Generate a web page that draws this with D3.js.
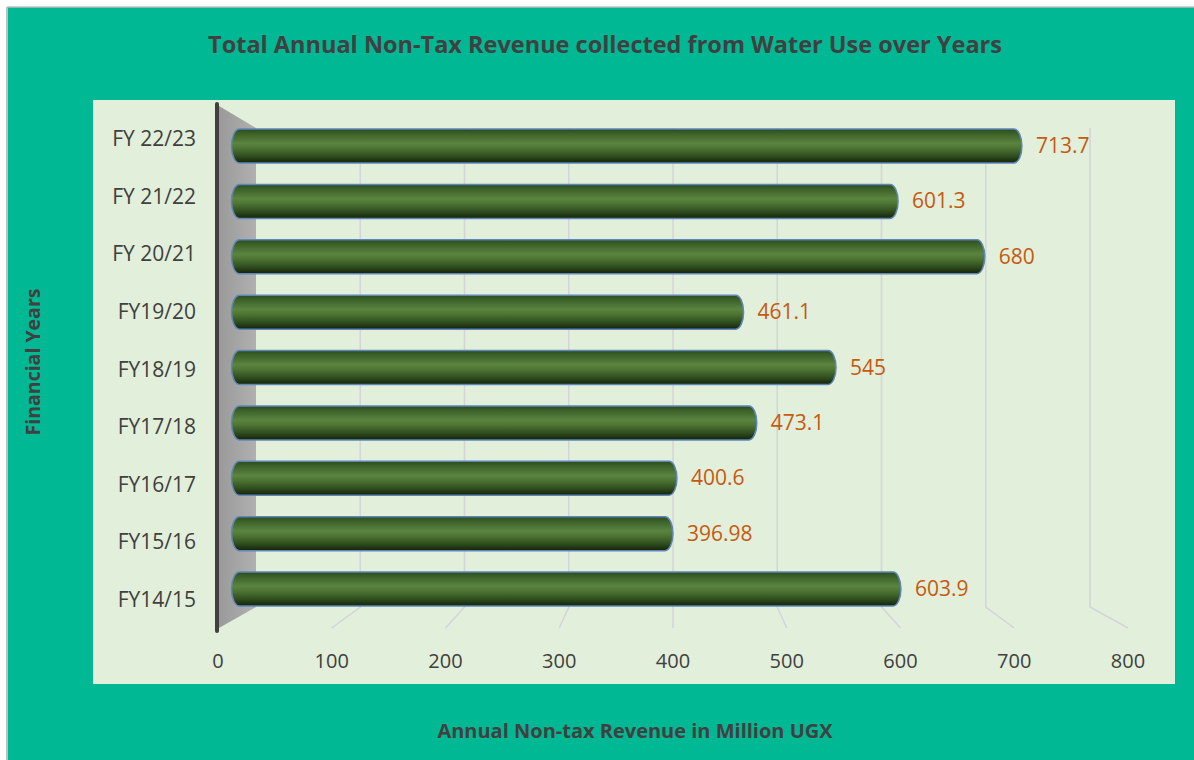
<!DOCTYPE html>
<html>
<head>
<meta charset="utf-8">
<script src="https://cdn.jsdelivr.net/npm/d3@7"></script>
<style>
  body { margin: 0; background: #fff; }
  svg { display: block; }
  text { font-family: 'Open Sans', 'Noto Sans', sans-serif; }
</style>
</head>
<body>
<div id="chart"></div>
<script>
// Data
const categories = ['FY14/15', 'FY15/16', 'FY16/17', 'FY17/18', 'FY18/19', 'FY19/20', 'FY 20/21', 'FY 21/22', 'FY 22/23'];
const values = [603.9, 396.98, 400.6, 473.1, 545, 461.1, 680, 601.3, 713.7];
const tickValues = [0, 100, 200, 300, 400, 500, 600, 700, 800];

const chartTitle = 'Total Annual Non-Tax Revenue collected from Water Use over Years';
const xTitle = 'Annual Non-tax Revenue in Million UGX';
const yTitle = 'Financial Years';

const W = 1194, H = 760;
const rows = categories.map((c, i) => ({ cat: c, val: values[i] }));

const svg = d3.select('#chart').append('svg')
    .attr('width', W)
    .attr('height', H);

// Gradient for the cylinders
const defs = svg.append('defs');
const grad = defs.append('linearGradient')
    .attr('id', 'cyl')
    .attr('x1', 0).attr('y1', 0).attr('x2', 0).attr('y2', 1);
[[0, '#2b4a1e'], [0.12, '#3a5f27'], [0.42, '#5b8440'], [0.55, '#4f7634'], [0.8, '#2f4d1e'], [1, '#14230b']]
    .forEach(s => grad.append('stop').attr('offset', s[0]).attr('stop-color', s[1]));

const wallGrad = defs.append('linearGradient')
    .attr('id', 'wall')
    .attr('x1', 0).attr('y1', 0).attr('x2', 1).attr('y2', 0);
wallGrad.append('stop').attr('offset', 0).attr('stop-color', '#9a9a9a');
wallGrad.append('stop').attr('offset', 1).attr('stop-color', '#b0b0b0');

// Chart area + plot area
svg.append('rect')
    .attr('x', 7).attr('y', 7)
    .attr('width', W - 7).attr('height', H - 7)
    .attr('fill', '#00b894');
svg.append('line')
    .attr('x1', 7).attr('y1', 7).attr('x2', 7).attr('y2', H)
    .attr('stroke', '#bfbfbf').attr('stroke-width', 2);
svg.append('line')
    .attr('x1', 7).attr('y1', 7).attr('x2', W).attr('y2', 7)
    .attr('stroke', '#bfbfbf').attr('stroke-width', 1.5);

const plot = { x: 93, y: 100, w: 1082, h: 584 };
svg.append('rect')
    .attr('x', plot.x).attr('y', plot.y)
    .attr('width', plot.w).attr('height', plot.h)
    .attr('fill', '#e2efda');

// Scales: front plane (labels), back plane (grid), bar depth
const floorFront = 628, floorBack = 607, topFront = 106, topBack = 128;
const xFront = d3.scaleLinear().domain([0, 800]).range([218, 1128]);
const xBack = d3.scaleLinear().domain([0, 800]).range([256, 1090]);
const xBar = d3.scaleLinear().domain([0, 800]).range([235.5, 1117]);
const yLabel = d3.scalePoint().domain(categories).range([600, 139]);
const yBar = d3.scalePoint().domain(categories).range([589, 146]);
const barH = 34;

// Side wall
svg.append('path')
    .attr('d', `M${xFront(0) + 1},${topFront} L${xBack(0)},${topBack} L${xBack(0)},${floorBack} L${xFront(0) + 1},${floorFront} Z`)
    .attr('fill', 'url(#wall)');

// Gridlines (back wall + floor)
const grid = svg.append('g').attr('class', 'grid');
grid.selectAll('path')
    .data(tickValues.filter(d => d > 0))
    .join('path')
    .attr('d', d => `M${xBack(d)},${topBack} L${xBack(d)},${floorBack} L${xFront(d)},${floorFront}`)
    .attr('fill', 'none')
    .attr('stroke', '#d4d4dc')
    .attr('stroke-width', 1.5);

// Front axis line
svg.append('line')
    .attr('x1', xFront(0) - 1).attr('x2', xFront(0) - 1)
    .attr('y1', topFront - 2).attr('y2', floorFront + 3)
    .attr('stroke', '#404040')
    .attr('stroke-width', 4)
    .attr('stroke-linecap', 'round');

// Bars (cylinders)
const bars = svg.append('g').attr('class', 'bars');
bars.selectAll('rect')
    .data(rows)
    .join('rect')
    .attr('x', xBar(0) - 4)
    .attr('y', d => yBar(d.cat) - barH / 2)
    .attr('width', d => xBar(d.val) - xBar(0) + 4)
    .attr('height', barH)
    .attr('rx', 8)
    .attr('ry', barH / 2)
    .attr('fill', 'url(#cyl)')
    .attr('stroke', '#5f86b8')
    .attr('stroke-width', 1.5);

// Value labels
svg.append('g').selectAll('text')
    .data(rows)
    .join('text')
    .attr('x', d => xBar(d.val) + 14)
    .attr('y', d => yBar(d.cat) + 7)
    .attr('fill', '#c55a11')
    .attr('font-size', 21)
    .text(d => String(d.val));

// Category labels
svg.append('g').selectAll('text')
    .data(categories)
    .join('text')
    .attr('x', 196)
    .attr('y', d => yLabel(d) + 7)
    .attr('text-anchor', 'end')
    .attr('fill', '#404040')
    .attr('font-size', 21)
    .text(d => d);

// X tick labels
svg.append('g').selectAll('text')
    .data(tickValues)
    .join('text')
    .attr('x', d => xFront(d))
    .attr('y', 668)
    .attr('text-anchor', 'middle')
    .attr('fill', '#404040')
    .attr('font-size', 20)
    .text(d => d);

// Titles
svg.append('text')
    .attr('x', 605).attr('y', 53)
    .attr('text-anchor', 'middle')
    .attr('font-size', 23.5)
    .attr('font-weight', 'bold')
    .attr('fill', '#404040')
    .text(chartTitle);

svg.append('text')
    .attr('x', 635).attr('y', 738)
    .attr('text-anchor', 'middle')
    .attr('font-size', 20)
    .attr('font-weight', 'bold')
    .attr('fill', '#404040')
    .text(xTitle);

svg.append('text')
    .attr('transform', 'translate(40,362) rotate(-90)')
    .attr('text-anchor', 'middle')
    .attr('font-size', 19.5)
    .attr('font-weight', 'bold')
    .attr('fill', '#404040')
    .text(yTitle);
</script>
</body>
</html>
